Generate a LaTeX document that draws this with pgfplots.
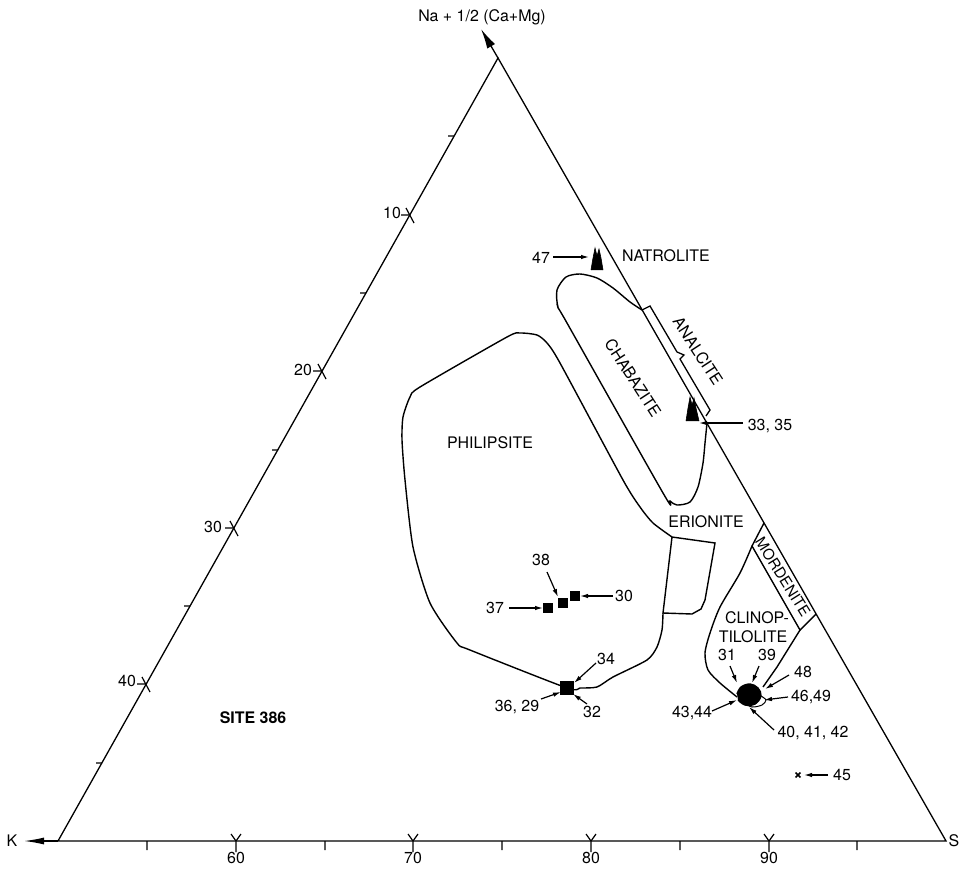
\documentclass[border=0pt]{standalone}
\usepackage{pgfplots}
\pgfplotsset{compat=1.18}
\usepackage{fontspec}
\setmainfont{TeX Gyre Heros}
\usetikzlibrary{arrows.meta}

\begin{document}
\begin{tikzpicture}[
  lbl/.style={font=\fontsize{16}{19}\selectfont, inner sep=0pt},
]
\begin{axis}[
  scale only axis, width=961bp, height=869bp,
  xmin=0, xmax=961, ymin=0, ymax=869, y dir=reverse,
  hide axis, clip=false,
  unbounded coords=jump,
  cycle list={{black, no markers}},
  every axis plot/.append style={line width=1.4bp, black},
  ptr/.style={line width=1.2bp, -{Latex[length=8bp,width=4.5bp]}},
]
% drawing extent
\addplot[draw=none] coordinates {(0,0) (961,869)};

% ---- triangle frame ----
\addplot[line width=1.3bp] coordinates {(58,841) (498,58) (946,841) (58,841)};
\addplot[line width=1.3bp, -{Latex[length=20bp,width=7bp]}] coordinates {(58,841) (24,841)};
\addplot[line width=1.3bp, -{Latex[length=20bp,width=9bp]}] coordinates {(498,58) (481,29)};

% bottom axis: major ticks (Y shape) and minor ticks
\addplot[line width=1.2bp] coordinates {
  (231,834) (236,841) (241,834) (nan,nan) (236,841) (236,852) (nan,nan)
  (408,834) (413,841) (418,834) (nan,nan) (413,841) (413,852) (nan,nan)
  (586,834) (591,841) (596,834) (nan,nan) (591,841) (591,852) (nan,nan)
  (764,834) (769,841) (774,834) (nan,nan) (769,841) (769,852) (nan,nan)
  (147,841) (147,850) (nan,nan) (325,841) (325,850) (nan,nan)
  (502,841) (502,850) (nan,nan) (680,841) (680,850) (nan,nan)
  (857,841) (857,850)
};
% left side: major and minor ticks
\addplot[line width=1.2bp] coordinates {
  (401,215) (410,215) (nan,nan) (406,208) (414,223) (nan,nan)
  (313,371) (322,371) (nan,nan) (318,364) (326,379) (nan,nan)
  (225,528) (234,528) (nan,nan) (230,521) (238,536) (nan,nan)
  (137,684) (146,684) (nan,nan) (142,677) (150,692) (nan,nan)
  (448,136) (454,136) (nan,nan) (360,293) (366,293) (nan,nan)
  (272,450) (278,450) (nan,nan) (184,606) (190,606) (nan,nan)
  (96,763) (102,763)
};

% ---- fields ----
% chabazite (closed by the right side)
\addplot[smooth, tension=0.45] coordinates {
  (642,310) (630,302) (613,288) (597,278) (580,274) (566,277) (557,290)
  (558,307) (567,323) (663,493) (670,501) (677,505) (690,502) (698,487)
  (703,463) (705,443) (707,423)
};
% philipsite
\addplot[smooth, tension=0.4] coordinates {
  (663,613) (662,630) (657,647) (647,660) (613,677) (597,687) (580,688)
  (567,688) (470,650) (457,643) (430,603) (413,547) (405,480) (402,440)
  (403,417) (410,397) (420,387) (507,337) (520,333) (537,335) (547,343)
  (560,363) (623,480) (640,507) (653,523) (672,537)
};
% erionite box
\addplot[] coordinates {
  (672,537) (715,543) (705,600) (701,609) (692,614) (663,613) (672,537)
};
% clinoptilolite
\addplot[smooth, tension=0.45] coordinates {
  (752,546) (740,573) (720,607) (710,633) (705,653) (708,670) (720,683)
  (737,697)
};
\addplot[] coordinates {(763,687) (777,667) (800,630)};
% mordenite strip
\addplot[] coordinates {(764,523) (752,546) (800,630) (816,614)};
% analcite bracket
\addplot[line width=1.3bp] coordinates {
  (642,310) (650,306) (677,352) (684,355) (680,359) (710,410) (706,416)
};

% ---- samples ----
% zeolite symbols (samples 47 and 33, 35)
\addplot[fill=black, line width=0.6bp] coordinates {
  (591,270) (593,258) (595,248) (597,256) (599,249) (601,258) (603,270)
};
\addplot[fill=black, line width=0.6bp] coordinates {
  (686,421) (688,408) (690,397) (692,405) (694,398) (696,408) (699,421)
};
% philipsite-field samples
\addplot[only marks, mark=square*, mark size=4] coordinates {
  (548,608) (563,603) (575,596)
};
\addplot[only marks, mark=square*, mark size=6.5] coordinates {(567,688)};
% clinoptilolite cluster
\addplot[fill=black, smooth, tension=0.6] coordinates {
  (737,694) (741,687) (750,684) (758,688) (761,696) (755,704) (745,705)
  (738,700)
};
\addplot[smooth, line width=1bp] coordinates {
  (744,703) (752,707) (762,705) (766,700) (761,696)
};
% sample 45
\addplot[only marks, mark=x, mark size=3.5, line width=1.5bp] coordinates {(798,775)};

% ---- label pointers ----
\addplot[ptr] coordinates {(553,257) (589,257)};
\addplot[ptr] coordinates {(743,423) (699,423)};
\addplot[ptr] coordinates {(509,608) (543,608)};
\addplot[ptr] coordinates {(547,572) (558,597)};
\addplot[ptr] coordinates {(613,596) (580,596)};
\addplot[ptr] coordinates {(596,663) (574,683)};
\addplot[ptr] coordinates {(541,699) (561,692)};
\addplot[ptr] coordinates {(587,704) (573,694)};
\addplot[ptr] coordinates {(730,666) (737,683)};
\addplot[ptr] coordinates {(759,666) (752,683)};
\addplot[ptr] coordinates {(789,675) (765,689)};
\addplot[ptr] coordinates {(788,697) (764,700)};
\addplot[ptr] coordinates {(712,711) (737,700)};
\addplot[ptr] coordinates {(774,730) (749,707)};
\addplot[ptr] coordinates {(828,775) (804,775)};

% ---- text ----
\node[lbl] at (482,17) {Na + 1/2 (Ca+Mg)};
\node[lbl] at (12,841) {K};
\node[lbl] at (954,841) {S};
\node[lbl] at (236,858) {60};
\node[lbl] at (413,858) {70};
\node[lbl] at (591,858) {80};
\node[lbl] at (769,858) {90};
\node[lbl] at (392,213) {10};
\node[lbl] at (303,370) {20};
\node[lbl] at (213,527) {30};
\node[lbl] at (127,681) {40};
\node[lbl, font=\fontsize{16}{19}\selectfont\bfseries] at (253,718) {SITE 386};
\node[lbl] at (490,443) {PHILIPSITE};
\node[lbl, rotate=-57] at (633,378) {CHABAZITE};
\node[lbl, rotate=-57] at (698,351) {ANALCITE};
\node[lbl] at (666,256) {NATROLITE};
\node[lbl] at (706,522) {ERIONITE};
\node[lbl, rotate=-58, font=\fontsize{15}{18}\selectfont] at (783,577) {MORDENITE};
\node[lbl] at (757,618) {CLINOP-};
\node[lbl] at (753,637) {TILOLITE};
\node[lbl] at (541,258) {47};
\node[lbl] at (770,426) {33, 35};
\node[lbl] at (541,560) {38};
\node[lbl] at (495,608) {37};
\node[lbl] at (624,596) {30};
\node[lbl] at (606,659) {34};
\node[lbl] at (517,707) {36, 29};
\node[lbl] at (592,712) {32};
\node[lbl] at (727,655) {31};
\node[lbl] at (767,655) {39};
\node[lbl] at (803,672) {48};
\node[lbl] at (811,697) {46,49};
\node[lbl] at (692,713) {43,44};
\node[lbl] at (813,733) {40, 41, 42};
\node[lbl] at (842,775) {45};
\end{axis}
\end{tikzpicture}
\end{document}
